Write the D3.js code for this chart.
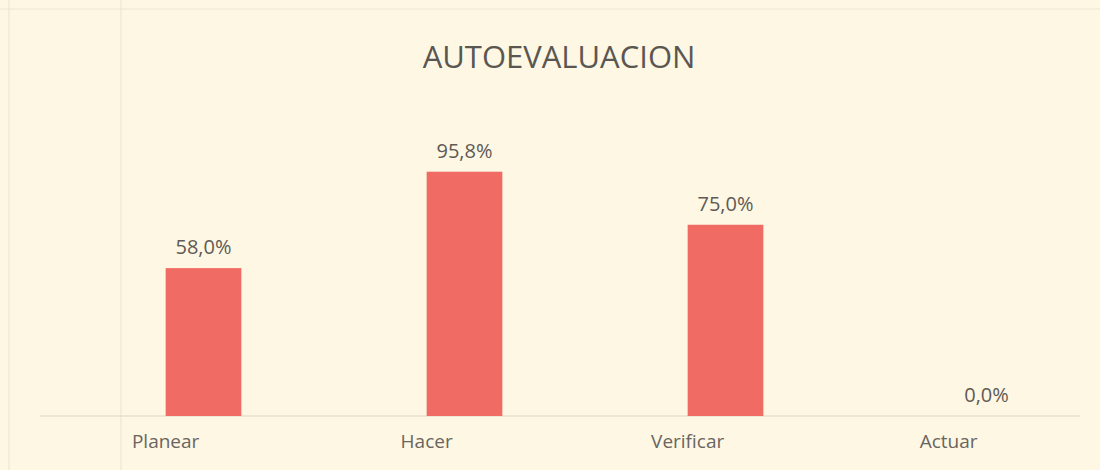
<!DOCTYPE html>
<html>
<head>
<meta charset="utf-8">
<script src="https://cdn.jsdelivr.net/npm/d3@7"></script>
<style>
  body { margin: 0; background: #fdf7e4; }
  svg { display: block; }
</style>
</head>
<body>
<svg id="chart" width="1100" height="470"></svg>
<script>
var categories = ["Planear", "Hacer", "Verificar", "Actuar"]
var values = [58.0, 95.8, 75.0, 0.0]
var title = "AUTOEVALUACION"

var svg = d3.select("#chart")
var font = "'Open Sans', Lato, sans-serif"

svg.append("rect").attr("width", 1100).attr("height", 470).attr("fill", "#fdf7e4")

// faint cell borders from the scanned sheet
svg.append("line").attr("x1", 9).attr("x2", 9).attr("y1", 0).attr("y2", 470).attr("stroke", "#ebe3cf").attr("stroke-width", 1)
svg.append("line").attr("x1", 121).attr("x2", 121).attr("y1", 0).attr("y2", 470).attr("stroke", "#ebe3cf").attr("stroke-width", 1)
svg.append("line").attr("x1", 0).attr("x2", 1100).attr("y1", 9).attr("y2", 9).attr("stroke", "#eee6d3").attr("stroke-width", 1)

var x = d3.scaleBand().domain(categories).range([73, 1117]).paddingInner(0.71).paddingOuter(0.355)
var y = d3.scaleLinear().domain([0, 100]).range([416, 161])

// baseline
svg.append("line").attr("x1", 40).attr("x2", 1080).attr("y1", y(0)).attr("y2", y(0)).attr("stroke", "#ddd6c6").attr("stroke-width", 1.2)

svg.selectAll("rect.bar").data(values).enter().append("rect")
    .attr("class", "bar")
    .attr("x", function (d, i) { return x(categories[i]) })
    .attr("y", function (d) { return y(d) })
    .attr("width", x.bandwidth())
    .attr("height", function (d) { return y(0) - y(d) })
    .attr("fill", "#ef6b63")

svg.selectAll("text.val").data(values).enter().append("text")
    .attr("class", "val")
    .attr("x", function (d, i) { return x(categories[i]) + x.bandwidth() / 2 })
    .attr("y", function (d) { return y(d) - 14 })
    .attr("text-anchor", "middle")
    .attr("font-family", font).attr("font-size", "20px")
    .attr("fill", "#5f5a55")
    .text(function (d) { return d.toFixed(1).replace(".", ",") + "%" })

// category labels sit shifted left, centred under the bar's left edge
svg.selectAll("text.cat").data(categories).enter().append("text")
    .attr("class", "cat")
    .attr("x", function (d) { return x(d) })
    .attr("y", 448)
    .attr("text-anchor", "middle")
    .attr("font-family", font).attr("font-size", "19px")
    .attr("fill", "#6a6560")
    .text(function (d) { return d })

svg.append("text").text(title)
    .attr("x", 559).attr("y", 68)
    .attr("text-anchor", "middle")
    .attr("font-family", font).attr("font-size", "31px")
    .attr("fill", "#5a5652")
</script>
</body>
</html>
